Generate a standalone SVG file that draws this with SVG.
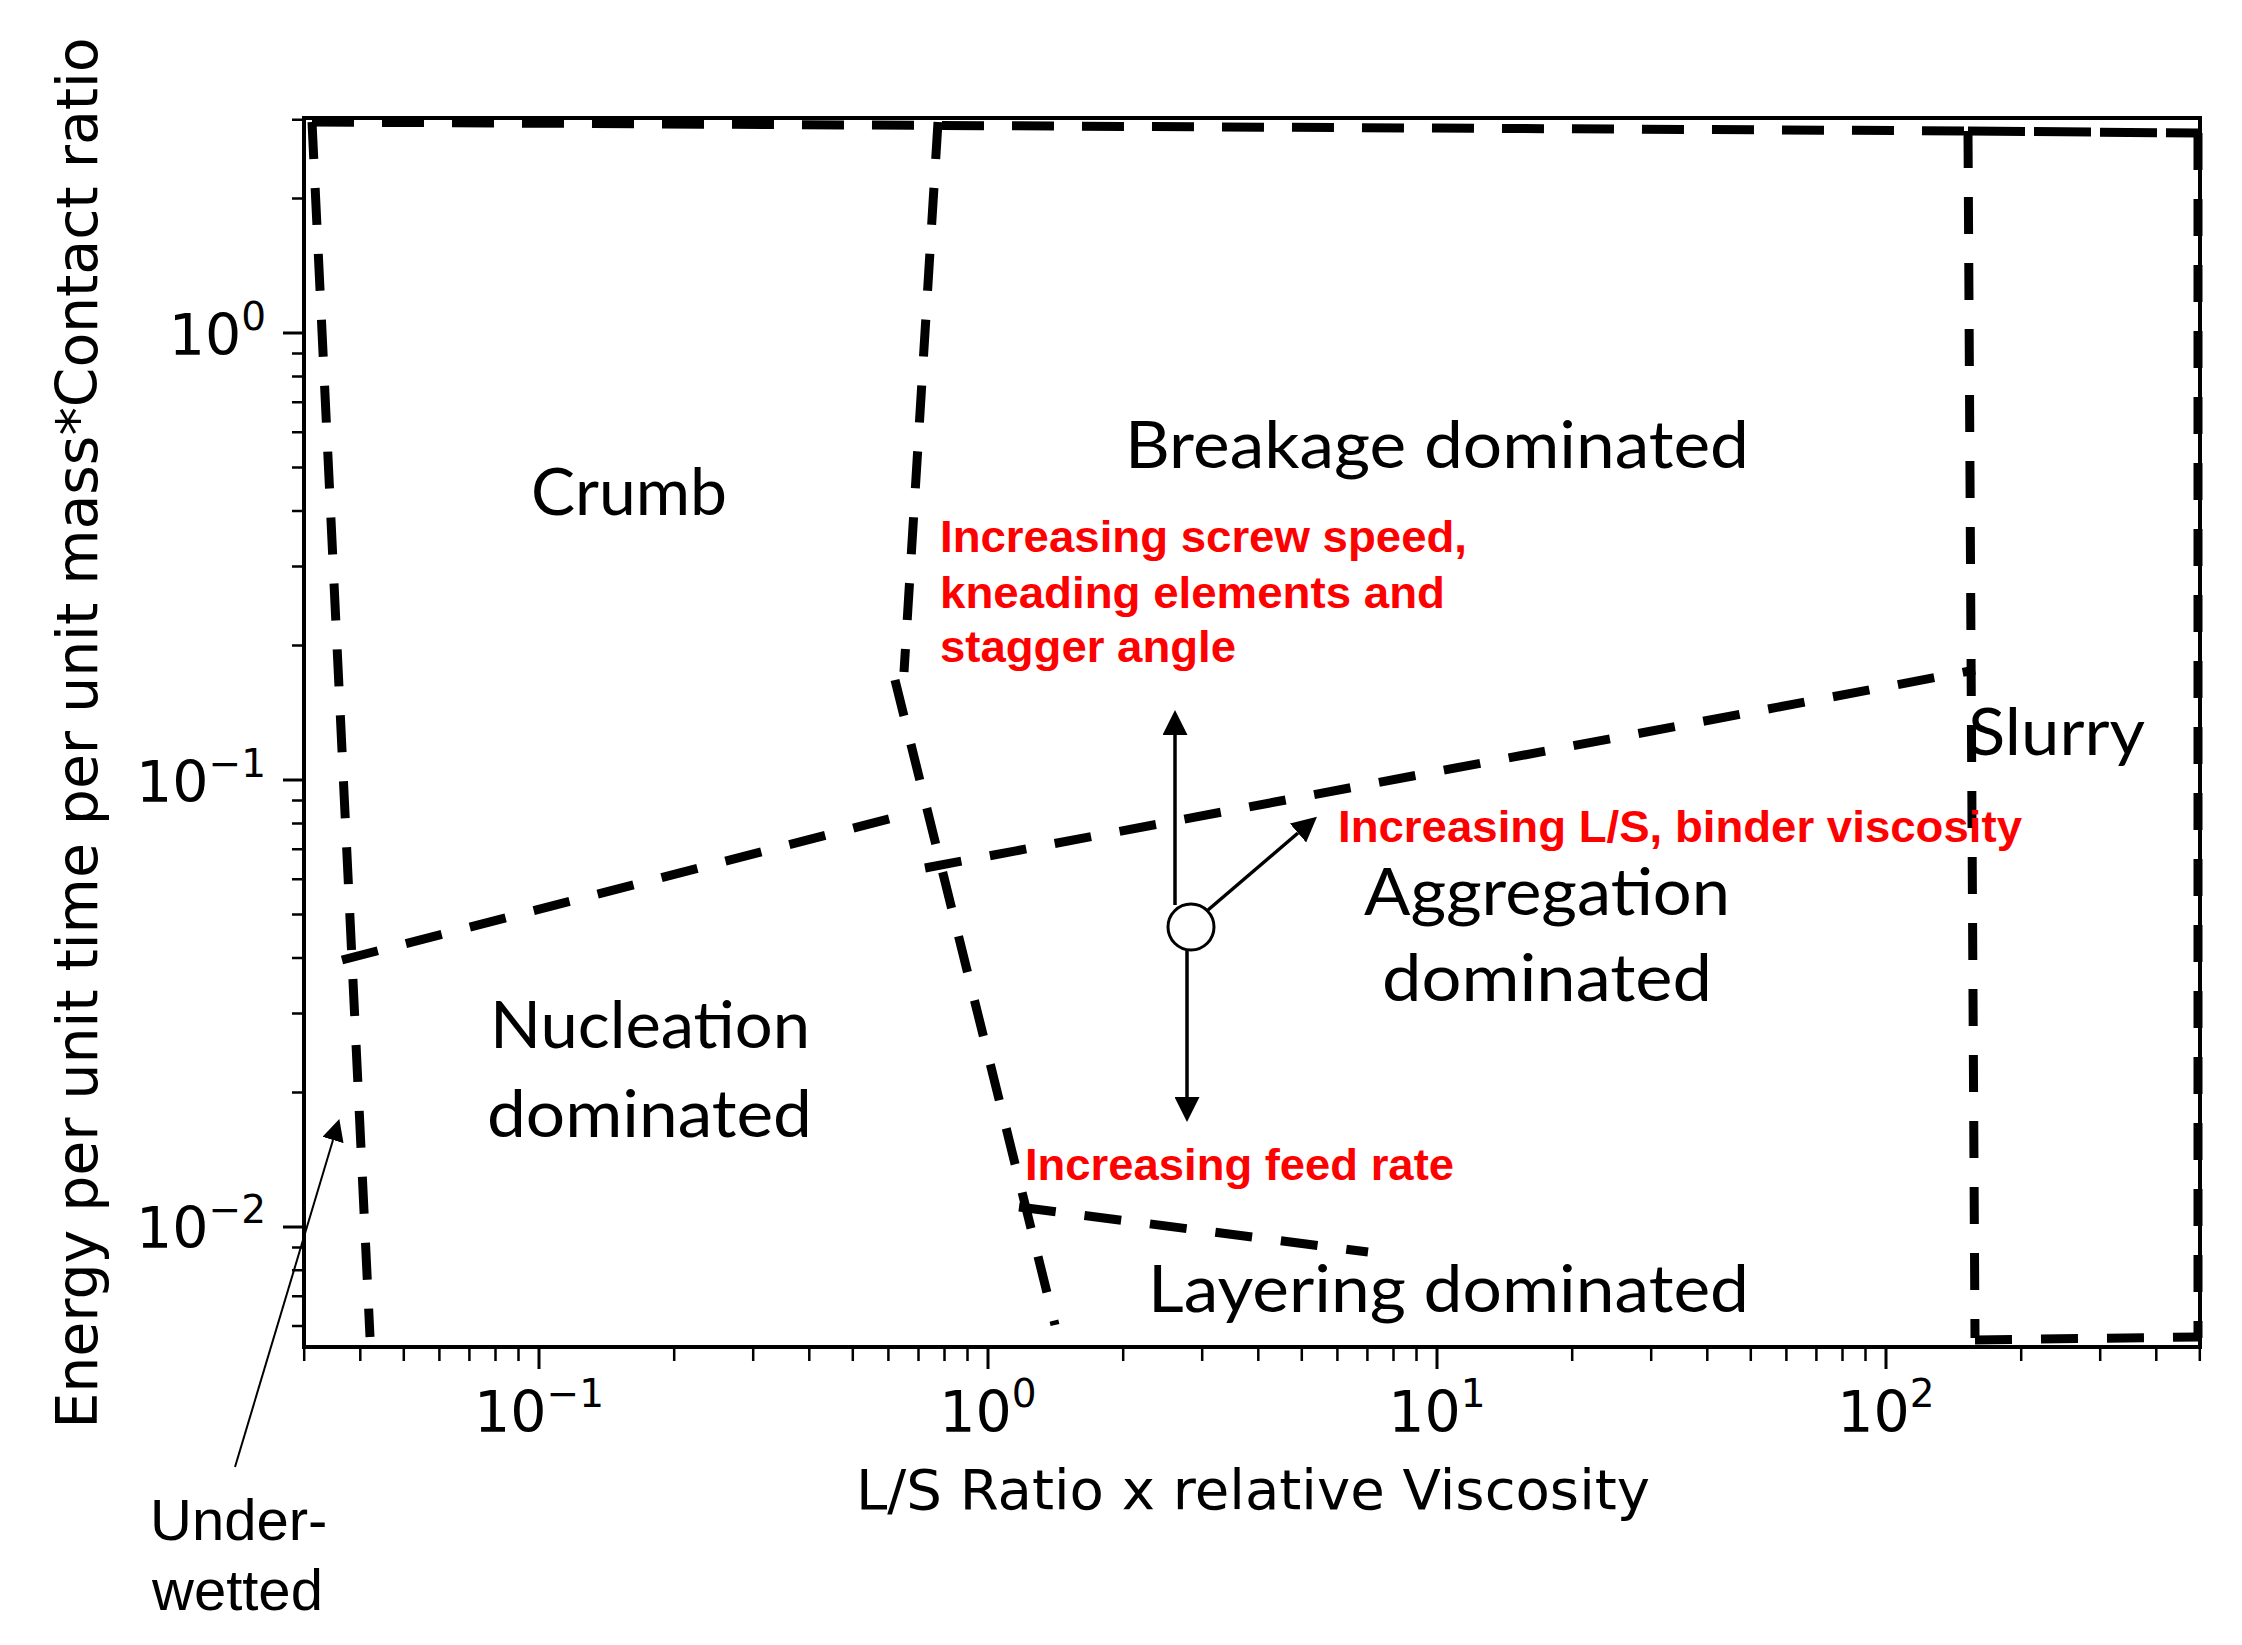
<svg xmlns="http://www.w3.org/2000/svg" width="2242" height="1645" viewBox="0 0 2242 1645">
<defs>
<style>
.frame{fill:none;stroke:#000;stroke-width:4}
.tick{fill:none;stroke:#000;stroke-width:2.5}
.major{stroke-width:3}
.dash{fill:none;stroke:#000;stroke-width:9;stroke-dasharray:37 29}
.tl{font-family:"DejaVu Sans",sans-serif;font-size:57px;fill:#000}
.sup{font-size:39px}
.axl{font-family:"DejaVu Sans",sans-serif;font-size:56px;fill:#000}
.region{font-family:Lato,"Open Sans",sans-serif;font-size:66px;fill:#000}
.red{font-family:"Liberation Sans",Arial,sans-serif;font-weight:bold;font-size:45px;fill:#ff0000}
.uw{font-family:"Liberation Sans",Arial,sans-serif;font-size:58px;fill:#000}
.arr{fill:none;stroke:#000;stroke-width:3.5}
.thin{fill:none;stroke:#000;stroke-width:2}
</style>
<marker id="ah" viewBox="0 0 10 10" refX="0" refY="5" markerUnits="userSpaceOnUse" markerWidth="25" markerHeight="25" orient="auto">
<path d="M0,0 L10,5 L0,10 z" fill="#000"/>
</marker>
<marker id="ahs" viewBox="0 0 10 10" refX="0" refY="5" markerUnits="userSpaceOnUse" markerWidth="22" markerHeight="22" orient="auto">
<path d="M0,0 L10,5 L0,10 z" fill="#000"/>
</marker>
</defs>
<rect width="2242" height="1645" fill="#fff"/>

<g id="axes">
<rect class="frame" x="304" y="118" width="1896" height="1229"/>
<path class="tick" d="M292,119.7H304M292,198.4H304M292,353.6H304M292,376.4H304M292,402.3H304M292,432.2H304M292,467.5H304M292,510.9H304M292,566.6H304M292,645.4H304M292,800.6H304M292,823.4H304M292,849.3H304M292,879.2H304M292,914.5H304M292,957.9H304M292,1013.6H304M292,1092.4H304M292,1247.5H304M292,1270.3H304M292,1296.2H304M292,1326.1H304"/>
<path class="tick major" d="M283,333H304M283,780H304M283,1227H304"/>
<path class="tick" d="M304.2,1347V1361M360.3,1347V1361M403.8,1347V1361M439.4,1347V1361M469.4,1347V1361M495.5,1347V1361M518.5,1347V1361M674.2,1347V1361M753.2,1347V1361M809.3,1347V1361M852.8,1347V1361M888.4,1347V1361M918.5,1347V1361M944.5,1347V1361M967.5,1347V1361M1123.2,1347V1361M1202.2,1347V1361M1258.3,1347V1361M1301.8,1347V1361M1337.4,1347V1361M1367.4,1347V1361M1393.5,1347V1361M1416.5,1347V1361M1572.2,1347V1361M1651.2,1347V1361M1707.3,1347V1361M1750.8,1347V1361M1786.4,1347V1361M1816.4,1347V1361M1842.5,1347V1361M1865.5,1347V1361M2021.2,1347V1361M2100.2,1347V1361M2156.3,1347V1361M2199.8,1347V1361"/>
<path class="tick major" d="M539,1347V1369M988,1347V1369M1437,1347V1369M1886,1347V1369"/>
<text class="tl" x="266" y="355" text-anchor="end">10<tspan class="sup" dy="-25">0</tspan></text>
<text class="tl" x="266" y="802" text-anchor="end">10<tspan class="sup" dy="-25">−1</tspan></text>
<text class="tl" x="266" y="1248" text-anchor="end">10<tspan class="sup" dy="-25">−2</tspan></text>
<text class="tl" x="539" y="1432" text-anchor="middle">10<tspan class="sup" dy="-25">−1</tspan></text>
<text class="tl" x="988" y="1432" text-anchor="middle">10<tspan class="sup" dy="-25">0</tspan></text>
<text class="tl" x="1437" y="1432" text-anchor="middle">10<tspan class="sup" dy="-25">1</tspan></text>
<text class="tl" x="1886" y="1432" text-anchor="middle">10<tspan class="sup" dy="-25">2</tspan></text>
<text class="axl" x="856" y="1509" textLength="794" lengthAdjust="spacingAndGlyphs">L/S Ratio x relative Viscosity</text>
<text class="axl" transform="translate(97,733) rotate(-90)" text-anchor="middle" style="font-size:57px" textLength="1391" lengthAdjust="spacingAndGlyphs">Energy per unit time per unit mass*Contact ratio</text>
</g>

<g id="connectors">
<path class="dash" style="stroke-dasharray:42 28" d="M312,122 L1968,131"/>
<path class="dash" style="stroke-dasharray:57 9" d="M1968,131 L2198,133"/>
<path class="dash" d="M1968,131 L1975,1338"/>
<path class="dash" d="M2198,133 L2198,1338"/>
<path class="dash" d="M1975,1340 L2198,1337"/>
<path class="dash" d="M312,122 L370,1337"/>
<path class="dash" d="M938,122 L904,672"/>
<path class="dash" d="M895,680 L1055,1325"/>
<path class="dash" d="M342,960 L912,813"/>
<path class="dash" d="M925,868 L1975,670"/>
<path class="dash" d="M1019,1207 L1368,1252"/>
<path class="arr" d="M1175,905 L1175,735" marker-end="url(#ah)"/>
<path class="arr" d="M1187,950 L1187,1097" marker-end="url(#ah)"/>
<path class="arr" d="M1208,910 L1298,833" marker-end="url(#ah)"/>
<path class="thin" d="M235,1467 L333,1140" marker-end="url(#ahs)"/>
</g>

<g id="state-point">
<circle cx="1191" cy="927" r="23" fill="#fff" stroke="#000" stroke-width="3"/>
</g>

<g id="crumb"><text class="region" x="531" y="515" textLength="196" lengthAdjust="spacingAndGlyphs">Crumb</text></g>
<g id="breakage"><text class="region" x="1125" y="468" textLength="624" lengthAdjust="spacingAndGlyphs">Breakage dominated</text></g>
<g id="slurry"><text class="region" x="1968" y="755" textLength="177" lengthAdjust="spacingAndGlyphs">Slurry</text></g>
<g id="aggregation">
<text class="region" x="1364" y="915" textLength="366" lengthAdjust="spacingAndGlyphs">Aggregation</text>
<text class="region" x="1382" y="1001" textLength="330" lengthAdjust="spacingAndGlyphs">dominated</text>
</g>
<g id="nucleation">
<text class="region" x="490" y="1048" textLength="320" lengthAdjust="spacingAndGlyphs">Nucleation</text>
<text class="region" x="487" y="1137" textLength="325" lengthAdjust="spacingAndGlyphs">dominated</text>
</g>
<g id="layering"><text class="region" x="1148" y="1312" textLength="601" lengthAdjust="spacingAndGlyphs">Layering dominated</text></g>
<g id="underwetted">
<text class="uw" x="150" y="1540">Under-</text>
<text class="uw" x="152" y="1610">wetted</text>
</g>

<g id="effect-screw">
<text class="red" x="940" y="552" textLength="527" lengthAdjust="spacingAndGlyphs">Increasing screw speed,</text>
<text class="red" x="940" y="608" textLength="505" lengthAdjust="spacingAndGlyphs">kneading elements and</text>
<text class="red" x="940" y="662" textLength="296" lengthAdjust="spacingAndGlyphs">stagger angle</text>
</g>
<g id="effect-ls"><text class="red" x="1338" y="842" textLength="684" lengthAdjust="spacingAndGlyphs">Increasing L/S, binder viscosity</text></g>
<g id="effect-feed"><text class="red" x="1025" y="1180" textLength="429" lengthAdjust="spacingAndGlyphs">Increasing feed rate</text></g>
</svg>
